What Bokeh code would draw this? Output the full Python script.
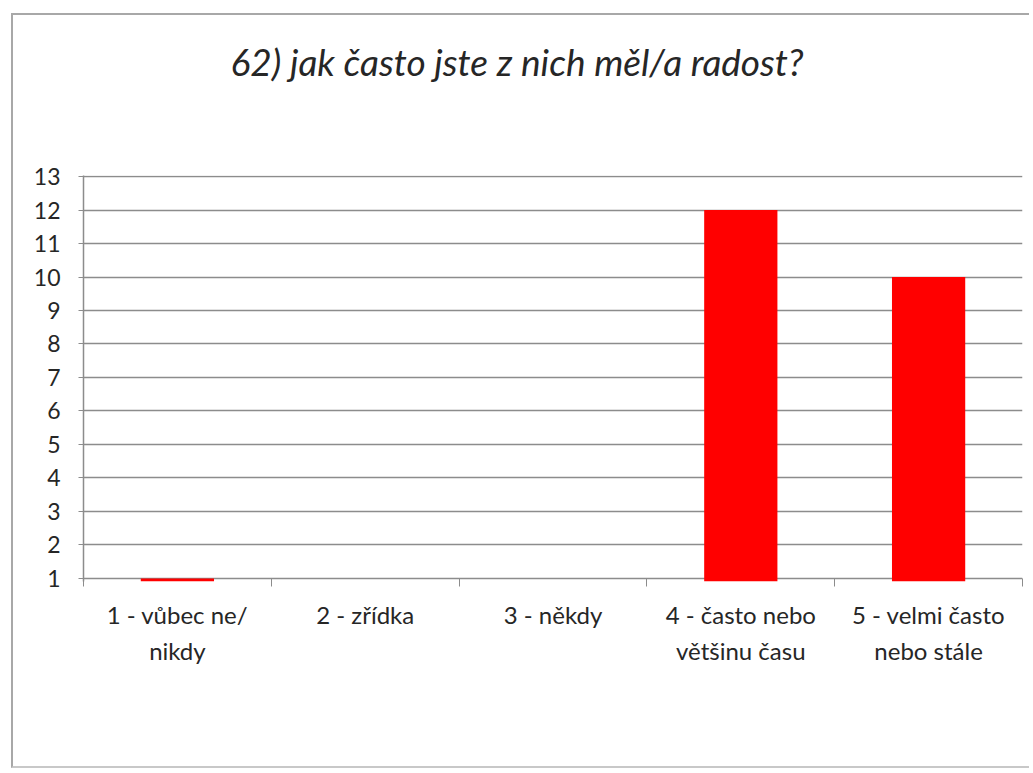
from bokeh.plotting import figure
from bokeh.models import Range1d, FixedTicker, ColumnDataSource, Title
from bokeh.embed import file_html
from bokeh.resources import INLINE

# ---- data ----
categories = ["1 - vůbec ne/\nnikdy", "2 - zřídka", "3 - někdy",
              "4 - často nebo\nvětšinu času", "5 - velmi často\nnebo stále"]
positions = [1, 2, 3, 4, 5]
values = [1, 0, 0, 12, 10]
y_ticks = list(range(1, 14))
title_text = "62) jak často jste z nich měl/a radost?"

FONT = "Lato"
GRID = "#8c8c8c"
TEXT = "#262626"

p = figure(width=1018, height=755,
           x_range=Range1d(0.5, 5.5), y_range=Range1d(0.91, 13.03),
           output_backend="svg", toolbar_location=None,
           min_border_left=70, min_border_right=9,
           min_border_top=160, min_border_bottom=189,
           margin=(13, 0, 0, 11),
           styles={"border-left": "2px solid #a8a8a8",
                   "border-top": "2px solid #a8a8a8",
                   "border-bottom": "2px solid #c8c8c8"})
p.outline_line_color = None
p.background_fill_color = "white"
p.border_fill_color = "white"

# only non-zero counts produce a visible bar
bar_x = [x for x, v in zip(positions, values) if v > 0]
bar_top = [v for v in values if v > 0]
src = ColumnDataSource(dict(x=bar_x, top=bar_top))
p.vbar(x="x", top="top", bottom=0, width=0.39, source=src,
       fill_color="#ff0000", line_color=None)

# y axis
p.yaxis.ticker = FixedTicker(ticks=y_ticks)
p.yaxis.axis_line_color = GRID
p.yaxis.axis_line_width = 1.5
p.yaxis.major_tick_line_color = GRID
p.yaxis.major_tick_in = 0
p.yaxis.major_tick_out = 5
p.yaxis.minor_tick_line_color = None
p.yaxis.major_label_standoff = 18
p.yaxis.major_label_text_font = FONT
p.yaxis.major_label_text_font_size = "23px"
p.yaxis.major_label_text_color = TEXT

# x axis: labels at category centres, ticks between categories
p.xaxis.ticker = FixedTicker(ticks=positions,
                             minor_ticks=[i + 0.5 for i in range(0, 6)])
p.xaxis.major_label_overrides = {pos: lab for pos, lab in zip(positions, categories)}
p.xaxis.axis_line_color = None
p.xaxis.major_tick_line_color = None
p.xaxis.major_tick_out = 0
p.xaxis.major_tick_in = 0
p.xaxis.minor_tick_line_color = GRID
p.xaxis.minor_tick_in = 3
p.xaxis.minor_tick_out = 5
p.xaxis.major_label_standoff = 13
p.xaxis.major_label_text_font = FONT
p.xaxis.major_label_text_font_size = "24px"
p.xaxis.major_label_text_color = TEXT
p.xaxis.major_label_text_line_height = 1.25

# grid
p.xgrid.grid_line_color = None
p.ygrid.ticker = FixedTicker(ticks=y_ticks)
p.ygrid.grid_line_color = GRID
p.ygrid.grid_line_width = 1.5

# title (spacer first so it sits next to the frame, real title above it)
p.add_layout(Title(text=" ", text_font_size="10px", standoff=74), "above")
p.add_layout(Title(text=title_text, align="left", offset=147, standoff=10,
                   text_font=FONT, text_font_style="italic",
                   text_font_size="37px", text_color=TEXT), "above")

open("out.html", "w").write(file_html(p, INLINE))
